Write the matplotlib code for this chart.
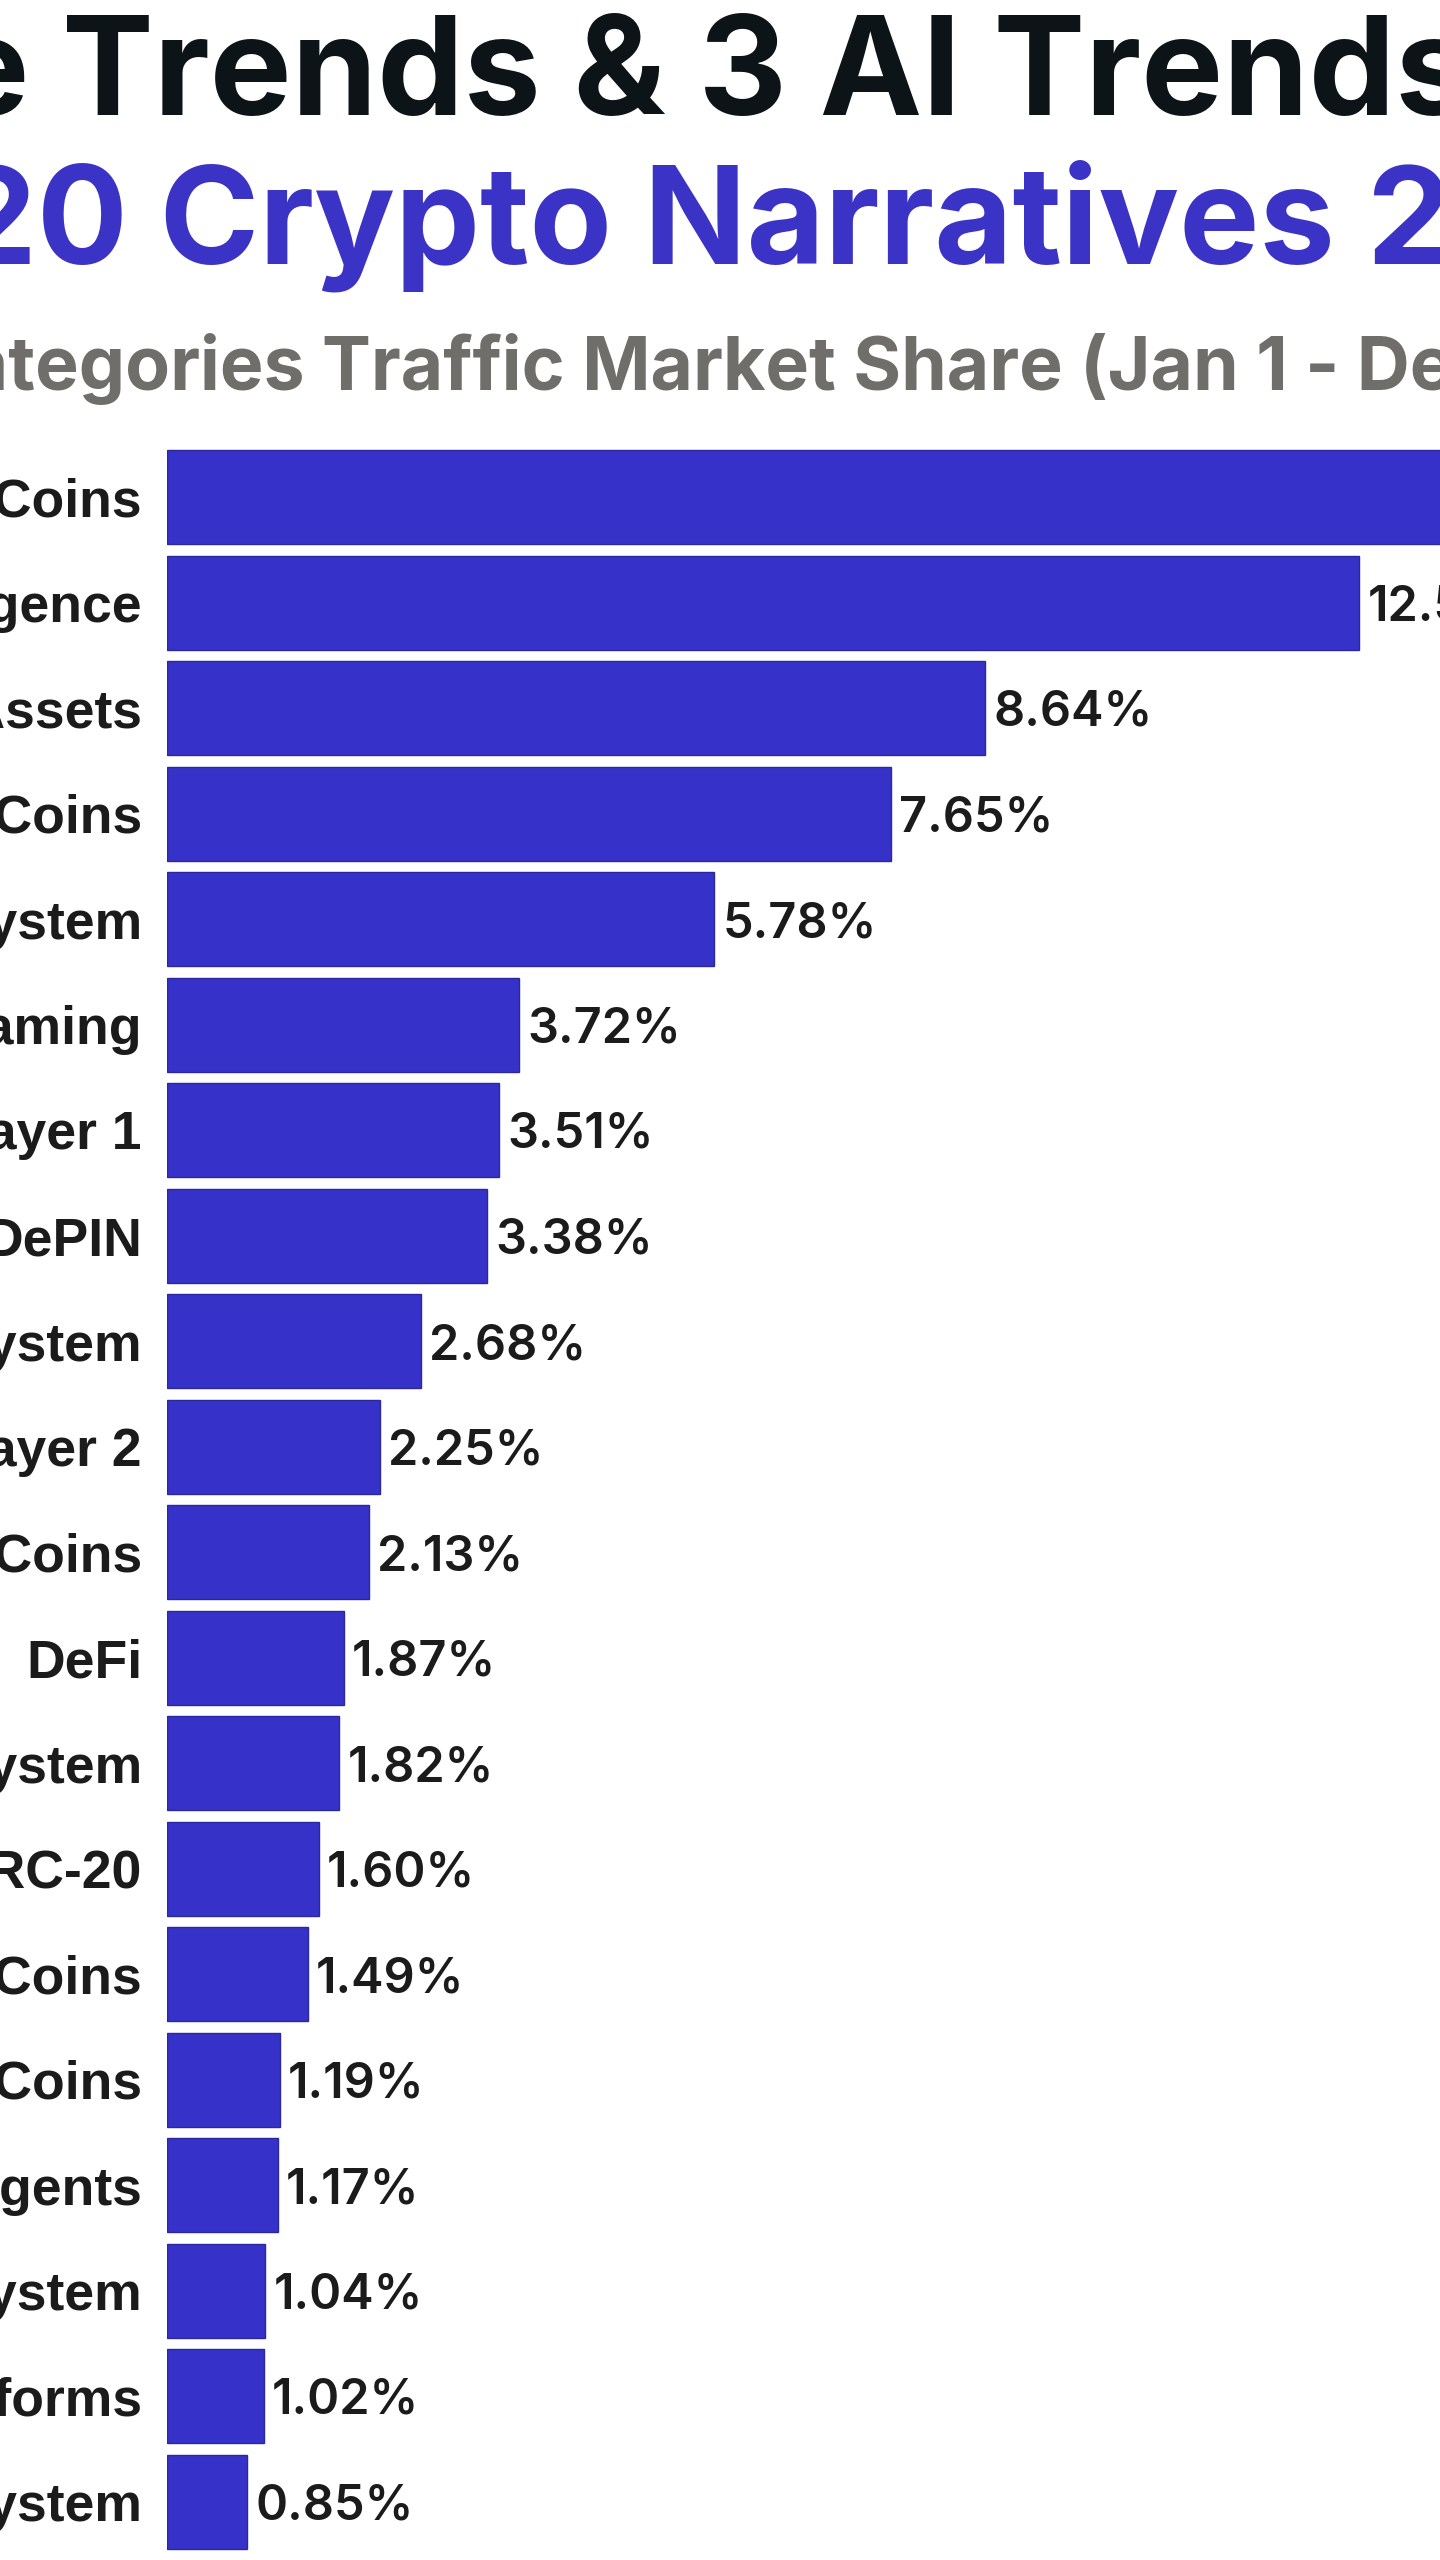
import matplotlib
matplotlib.use("Agg")
import matplotlib.pyplot as plt

# ---------------- data ----------------
categories = [
    "Meme Coins", "Artificial Intelligence", "Real World Assets", "Dog-Themed Coins",
    "Solana Ecosystem", "Gaming", "Layer 1", "DePIN", "Base Ecosystem", "Layer 2",
    "Cat-Themed Coins", "DeFi", "BNB Chain Ecosystem", "BRC-20", "Political Meme Coins",
    "Frog-Themed Coins", "AI Agents", "TON Ecosystem", "AI Platforms", "Sui Ecosystem",
]
values = [30.67, 12.59, 8.64, 7.65, 5.78, 3.72, 3.51, 3.38, 2.68, 2.25,
          2.13, 1.87, 1.82, 1.60, 1.49, 1.19, 1.17, 1.04, 1.02, 0.85]
value_labels = [f"{v:.2f}%" for v in values]

title_line1 = "6 Meme Trends & 3 AI Trends in"
title_line2 = "Top 20 Crypto Narratives 2024"
title_line3 = "Top Categories Traffic Market Share (Jan 1 - Dec 31, 2024)"

# ---------------- style ----------------
W, H = 1440, 2560
BAR_COLOR = "#3631c9"
BAR_EDGE = "#2b279f"
TITLE_BLUE = "#3b33c6"
SUB_GRAY = "#6f6e6a"
TEXT_DARK = "#1b1b1b"
TITLE_FONT = ["Inter", "DejaVu Sans"]
LABEL_FONT = ["Liberation Sans", "DejaVu Sans"]
VALUE_FONT = ["Inter", "DejaVu Sans"]

fig = plt.figure(figsize=(W / 100, H / 100), dpi=100)
fig.patch.set_facecolor("white")
renderer = fig.canvas.get_renderer()


def ink_width(s, **kw):
    t = fig.text(0, 0, s, **kw)
    w = t.get_window_extent(renderer).width
    t.remove()
    return w


def place_anchored(full, prefix, anchor_char, x_px, baseline_px, **kw):
    # place full text so that anchor_char (after prefix) starts at x_px
    off = ink_width(prefix + anchor_char, **kw) - ink_width(anchor_char, **kw)
    fig.text((x_px - off) / W, 1 - baseline_px / H, full, ha="left",
             va="baseline", **kw)


place_anchored(title_line1, "6 Meme ", "T", 62, 115,
               family=TITLE_FONT, fontweight="bold", fontsize=99, color="#0c1418")
place_anchored(title_line2, "Top 20 ", "C", 160, 263,
               family=TITLE_FONT, fontweight="bold", fontsize=97, color=TITLE_BLUE)
place_anchored(title_line3, "Top Categories ", "T", 322, 390,
               family=TITLE_FONT, fontweight="bold", fontsize=52.8, color=SUB_GRAY)

# ---------------- bars ----------------
pitch = 105.5
y0_center = 497.0
ax_top_px = 400.0
ax_left_px = 167.0
px_per_unit = 94.7

ax = fig.add_axes([ax_left_px / W, 0, (W - ax_left_px) / W, (H - ax_top_px) / H])
ax.set_xlim(0, (W - ax_left_px) / px_per_unit)
ax.set_ylim((H - y0_center) / pitch, (ax_top_px - y0_center) / pitch)
ax.axis("off")

ypos = list(range(len(categories)))
ax.barh(ypos, values, height=94 / pitch, color=BAR_COLOR, edgecolor=BAR_EDGE,
        linewidth=1.0)

gap = 8 / px_per_unit
for y, v, lab in zip(ypos, values, value_labels):
    ax.text(v + gap, y, lab, ha="left", va="center_baseline", clip_on=False,
            family=VALUE_FONT, fontweight="semibold", fontsize=35, color=TEXT_DARK)

for y, cat in zip(ypos, categories):
    ax.text(-25 / px_per_unit, y, cat, ha="right", va="center_baseline", clip_on=False,
            family=LABEL_FONT, fontweight="bold", fontsize=38.5, color=TEXT_DARK)

fig.savefig("out.png", dpi=100, facecolor="white")
